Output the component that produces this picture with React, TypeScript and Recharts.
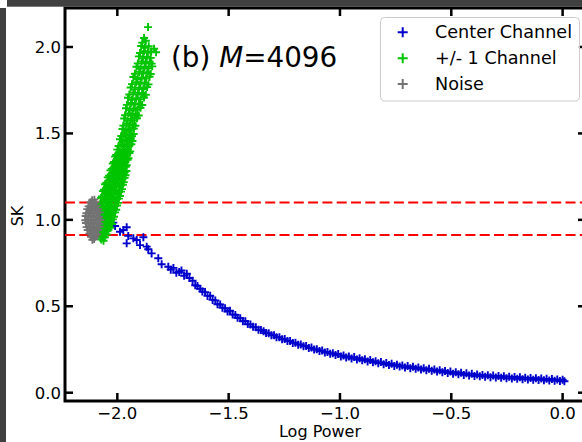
import React from "react";
import { ScatterChart, Scatter, XAxis, YAxis, ReferenceLine, ReferenceArea, Legend } from "recharts";

// ---------- data ----------
const seriesNames = ["Center Channel", "+/- 1 Channel", "Noise"];
const seriesColors = ["#0000cc", "#00c400", "#737373"];
const xTicks = [-2.0, -1.5, -1.0, -0.5, 0.0];
const yTicks = [0.0, 0.5, 1.0, 1.5, 2.0];
const thresholds = [1.1, 0.912];
const titleText = "(b) ";
const titleVar = "M";
const titleRest = "=4096";
const xLabel = "Log Power";
const yLabel = "SK";

const centerChannel: [number, number][] = [
  [-2.040, 0.960], [-2.033, 0.989], [-2.018, 0.984], [-2.010, 0.964], [-1.988, 0.931], [-1.973, 0.941],
  [-1.958, 0.957], [-1.951, 0.907], [-1.958, 0.864], [-1.928, 0.893], [-1.913, 0.883], [-1.898, 0.854],
  [-1.883, 0.899], [-1.868, 0.845], [-1.861, 0.830], [-1.846, 0.806], [-1.816, 0.778], [-1.801, 0.743],
  [-1.771, 0.729], [-1.760, 0.712], [-1.748, 0.722], [-1.735, 0.694], [-1.722, 0.698], [-1.712, 0.707],
  [-1.700, 0.676], [-1.688, 0.688], [-1.676, 0.664], [-1.662, 0.648], [-1.650, 0.622], [-1.640, 0.618],
  [-1.628, 0.601], [-1.618, 0.586], [-1.606, 0.582], [-1.595, 0.560], [-1.583, 0.561], [-1.572, 0.537],
  [-1.560, 0.534], [-1.550, 0.512], [-1.538, 0.510], [-1.528, 0.492], [-1.516, 0.489], [-1.505, 0.470],
  [-1.494, 0.474], [-1.482, 0.452], [-1.470, 0.450], [-1.460, 0.434], [-1.448, 0.431], [-1.436, 0.414],
  [-1.425, 0.413], [-1.414, 0.397], [-1.402, 0.394], [-1.390, 0.381], [-1.378, 0.378], [-1.366, 0.364],
  [-1.355, 0.363], [-1.343, 0.356], [-1.332, 0.345], [-1.320, 0.344], [-1.308, 0.333], [-1.296, 0.332],
  [-1.285, 0.321], [-1.272, 0.321], [-1.260, 0.309], [-1.248, 0.310], [-1.236, 0.299], [-1.224, 0.299],
  [-1.212, 0.288], [-1.200, 0.289], [-1.188, 0.278], [-1.176, 0.279], [-1.164, 0.269], [-1.152, 0.270],
  [-1.140, 0.259], [-1.128, 0.261], [-1.116, 0.250], [-1.104, 0.252], [-1.092, 0.241], [-1.080, 0.244],
  [-1.068, 0.233], [-1.056, 0.236], [-1.044, 0.226], [-1.032, 0.228], [-1.020, 0.218], [-1.008, 0.224],
  [-0.996, 0.209], [-0.984, 0.215], [-0.972, 0.203], [-0.960, 0.210], [-0.948, 0.198], [-0.936, 0.206],
  [-0.924, 0.192], [-0.912, 0.199], [-0.900, 0.188], [-0.888, 0.194], [-0.876, 0.181], [-0.864, 0.189],
  [-0.852, 0.176], [-0.840, 0.182], [-0.828, 0.171], [-0.816, 0.177], [-0.804, 0.165], [-0.792, 0.172],
  [-0.780, 0.160], [-0.768, 0.168], [-0.756, 0.155], [-0.744, 0.162], [-0.732, 0.151], [-0.720, 0.158],
  [-0.708, 0.146], [-0.696, 0.154], [-0.684, 0.142], [-0.672, 0.150], [-0.660, 0.139], [-0.648, 0.146],
  [-0.636, 0.134], [-0.624, 0.142], [-0.612, 0.130], [-0.600, 0.138], [-0.588, 0.127], [-0.576, 0.134],
  [-0.564, 0.122], [-0.552, 0.130], [-0.540, 0.118], [-0.528, 0.126], [-0.516, 0.114], [-0.504, 0.122],
  [-0.492, 0.110], [-0.480, 0.118], [-0.468, 0.107], [-0.456, 0.115], [-0.444, 0.103], [-0.432, 0.112],
  [-0.420, 0.100], [-0.408, 0.109], [-0.396, 0.097], [-0.384, 0.106], [-0.372, 0.095], [-0.360, 0.103],
  [-0.348, 0.093], [-0.336, 0.101], [-0.324, 0.090], [-0.312, 0.099], [-0.300, 0.088], [-0.288, 0.097],
  [-0.276, 0.086], [-0.264, 0.095], [-0.252, 0.084], [-0.240, 0.093], [-0.228, 0.082], [-0.216, 0.091],
  [-0.204, 0.080], [-0.192, 0.089], [-0.180, 0.078], [-0.168, 0.087], [-0.156, 0.077], [-0.144, 0.085],
  [-0.132, 0.075], [-0.120, 0.084], [-0.108, 0.074], [-0.096, 0.082], [-0.084, 0.072], [-0.072, 0.080],
  [-0.060, 0.071], [-0.048, 0.079], [-0.036, 0.069], [-0.024, 0.077], [-0.012, 0.068], [0.000, 0.075],
  [0.008, 0.066],
];

const sideChannels: [number, number][] = [
  [-2.072, 0.886], [-2.062, 0.879],
  [-2.075, 0.897], [-2.066, 0.905], [-2.056, 0.899],
  [-2.077, 0.926], [-2.067, 0.917], [-2.057, 0.924], [-2.048, 0.915],
  [-2.078, 0.946], [-2.068, 0.937], [-2.058, 0.944], [-2.048, 0.935], [-2.040, 0.942],
  [-2.079, 0.966], [-2.069, 0.955], [-2.059, 0.962], [-2.049, 0.957], [-2.039, 0.965], [-2.031, 0.954],
  [-2.080, 0.977], [-2.070, 0.986], [-2.060, 0.975], [-2.050, 0.984], [-2.040, 0.978], [-2.030, 0.987], [-2.024, 0.976],
  [-2.080, 1.006], [-2.070, 0.995], [-2.060, 1.004], [-2.050, 0.997], [-2.040, 1.008], [-2.030, 0.996], [-2.020, 1.003],
  [-2.080, 1.015], [-2.069, 1.026], [-2.058, 1.017], [-2.047, 1.024], [-2.036, 1.014], [-2.025, 1.027], [-2.015, 1.018],
  [-2.080, 1.046], [-2.069, 1.035], [-2.058, 1.044], [-2.047, 1.037], [-2.036, 1.048], [-2.024, 1.036], [-2.010, 1.043],
  [-2.080, 1.055], [-2.068, 1.066], [-2.056, 1.057], [-2.044, 1.064], [-2.032, 1.054], [-2.019, 1.067], [-2.005, 1.058],
  [-2.078, 1.086], [-2.066, 1.075], [-2.054, 1.084], [-2.042, 1.077], [-2.029, 1.088], [-2.015, 1.076], [-2.001, 1.083],
  [-2.076, 1.095], [-2.064, 1.106], [-2.051, 1.097], [-2.038, 1.104], [-2.025, 1.094], [-2.011, 1.107], [-1.997, 1.098],
  [-2.073, 1.126], [-2.060, 1.115], [-2.047, 1.124], [-2.034, 1.117], [-2.021, 1.128], [-2.007, 1.116], [-1.993, 1.123],
  [-2.069, 1.135], [-2.056, 1.146], [-2.043, 1.137], [-2.030, 1.144], [-2.016, 1.134], [-2.002, 1.147], [-1.988, 1.138],
  [-2.065, 1.166], [-2.052, 1.155], [-2.038, 1.164], [-2.025, 1.157], [-2.011, 1.168], [-1.997, 1.156], [-1.983, 1.163],
  [-2.060, 1.175], [-2.047, 1.186], [-2.033, 1.177], [-2.020, 1.184], [-2.006, 1.174], [-1.992, 1.187], [-1.979, 1.178],
  [-2.055, 1.206], [-2.041, 1.195], [-2.028, 1.204], [-2.014, 1.197], [-2.000, 1.208], [-1.987, 1.196], [-1.975, 1.203],
  [-2.049, 1.215], [-2.036, 1.226], [-2.022, 1.217], [-2.008, 1.224], [-1.995, 1.214], [-1.982, 1.227], [-1.971, 1.218],
  [-2.043, 1.246], [-2.030, 1.235], [-2.016, 1.244], [-2.002, 1.237], [-1.989, 1.248], [-1.977, 1.236], [-1.967, 1.243],
  [-2.037, 1.255], [-2.024, 1.266], [-2.011, 1.257], [-1.997, 1.264], [-1.984, 1.254], [-1.972, 1.267], [-1.963, 1.258],
  [-2.031, 1.286], [-2.018, 1.275], [-2.005, 1.284], [-1.992, 1.277], [-1.979, 1.288], [-1.967, 1.276], [-1.959, 1.283],
  [-2.025, 1.295], [-2.012, 1.306], [-1.999, 1.297], [-1.987, 1.304], [-1.974, 1.294], [-1.962, 1.307],
  [-2.020, 1.326], [-2.007, 1.315], [-1.994, 1.324], [-1.982, 1.317], [-1.969, 1.328], [-1.958, 1.316],
  [-2.015, 1.335], [-2.002, 1.346], [-1.989, 1.337], [-1.977, 1.344], [-1.964, 1.334], [-1.954, 1.347],
  [-2.010, 1.366], [-1.997, 1.355], [-1.985, 1.364], [-1.972, 1.357], [-1.960, 1.368], [-1.950, 1.356],
  [-2.005, 1.375], [-1.992, 1.386], [-1.980, 1.377], [-1.968, 1.384], [-1.956, 1.374], [-1.946, 1.387],
  [-2.000, 1.406], [-1.988, 1.395], [-1.976, 1.404], [-1.964, 1.397], [-1.952, 1.408], [-1.942, 1.396],
  [-1.994, 1.427], [-1.982, 1.436], [-1.970, 1.425], [-1.958, 1.434], [-1.946, 1.428], [-1.937, 1.437],
  [-1.988, 1.466], [-1.976, 1.455], [-1.964, 1.464], [-1.952, 1.457], [-1.940, 1.468], [-1.932, 1.456],
  [-1.982, 1.485], [-1.970, 1.496], [-1.958, 1.487], [-1.946, 1.494], [-1.934, 1.484], [-1.927, 1.497],
  [-1.977, 1.526], [-1.964, 1.515], [-1.951, 1.524], [-1.939, 1.517], [-1.926, 1.528],
  [-1.973, 1.545], [-1.959, 1.556], [-1.945, 1.547], [-1.931, 1.554], [-1.919, 1.544],
  [-1.969, 1.586], [-1.954, 1.575], [-1.939, 1.584], [-1.924, 1.577], [-1.912, 1.588],
  [-1.965, 1.605], [-1.949, 1.616], [-1.933, 1.607], [-1.917, 1.614], [-1.904, 1.604],
  [-1.961, 1.646], [-1.944, 1.635], [-1.927, 1.644], [-1.910, 1.637], [-1.896, 1.648],
  [-1.957, 1.665], [-1.939, 1.676], [-1.921, 1.667], [-1.903, 1.674], [-1.888, 1.664],
  [-1.952, 1.706], [-1.934, 1.695], [-1.915, 1.704], [-1.896, 1.697], [-1.880, 1.708],
  [-1.946, 1.725], [-1.928, 1.736], [-1.908, 1.727], [-1.889, 1.734], [-1.872, 1.724],
  [-1.940, 1.766], [-1.921, 1.755], [-1.902, 1.764], [-1.883, 1.757], [-1.866, 1.768],
  [-1.934, 1.785], [-1.915, 1.796], [-1.896, 1.787], [-1.877, 1.794], [-1.860, 1.784],
  [-1.928, 1.826], [-1.909, 1.815], [-1.890, 1.824], [-1.871, 1.817], [-1.855, 1.828],
  [-1.921, 1.845], [-1.902, 1.856], [-1.884, 1.847], [-1.866, 1.854], [-1.850, 1.844],
  [-1.914, 1.886], [-1.896, 1.875], [-1.878, 1.884], [-1.860, 1.877], [-1.843, 1.888],
  [-1.908, 1.905], [-1.890, 1.916], [-1.872, 1.907], [-1.855, 1.914], [-1.846, 1.904],
  [-1.903, 1.946], [-1.885, 1.935], [-1.867, 1.944], [-1.850, 1.937],
  [-1.898, 1.965], [-1.880, 1.976], [-1.863, 1.967], [-1.848, 1.974],
  [-1.893, 2.006], [-1.876, 1.995], [-1.859, 2.004],
  [-1.888, 2.025], [-1.872, 2.036],
  [-1.880, 2.052],
  [-1.862, 2.115], [-1.826, 1.970], [-1.835, 1.990],
];

const noise: [number, number][] = [
  [-2.112, 0.885], [-2.104, 0.889],
  [-2.118, 0.902], [-2.108, 0.898], [-2.098, 0.904],
  [-2.125, 0.921], [-2.113, 0.918], [-2.101, 0.923], [-2.090, 0.917],
  [-2.133, 0.941], [-2.121, 0.937], [-2.109, 0.943], [-2.097, 0.938], [-2.086, 0.942],
  [-2.138, 0.958], [-2.126, 0.963], [-2.114, 0.957], [-2.102, 0.962], [-2.090, 0.958], [-2.080, 0.961],
  [-2.141, 0.982], [-2.129, 0.977], [-2.117, 0.983], [-2.105, 0.978], [-2.093, 0.982], [-2.081, 0.977],
  [-2.144, 0.998], [-2.132, 1.003], [-2.120, 0.997], [-2.108, 1.002], [-2.096, 0.998], [-2.084, 1.003], [-2.076, 0.999],
  [-2.142, 1.022], [-2.130, 1.017], [-2.118, 1.023], [-2.106, 1.018], [-2.094, 1.022], [-2.082, 1.017],
  [-2.139, 1.038], [-2.127, 1.043], [-2.115, 1.037], [-2.103, 1.042], [-2.091, 1.038], [-2.080, 1.043],
  [-2.135, 1.062], [-2.123, 1.057], [-2.111, 1.063], [-2.099, 1.058], [-2.087, 1.061],
  [-2.129, 1.078], [-2.117, 1.083], [-2.105, 1.077], [-2.093, 1.082],
  [-2.121, 1.102], [-2.109, 1.097], [-2.097, 1.101],
  [-2.113, 1.114], [-2.103, 1.117],
];

// ---------- layout ----------
const CHART_W = 590;
const CHART_H = 442;
const PL = 65;
const PT = 8;
const PR = 586;
const PB = 401;
const XMIN = -2.235;
const XMAX = 0.105;
const YMIN = -0.048;
const YMAX = 2.2256;
const FONT = "'DejaVu Sans', 'Liberation Sans', sans-serif";

const toPts = (arr: [number, number][]) => arr.map(([x, y]) => ({ x, y }));

const fmt = (v: number) => {
  const s = Math.abs(v).toFixed(1);
  return v < 0 ? "\u2212" + s : s;
};

const makeCross = (color: string, size: number) => (props: any) => {
  const { cx, cy } = props;
  if (cx == null || cy == null || isNaN(cx) || isNaN(cy)) return <g />;
  const h = size / 2;
  return (
    <path
      d={`M${cx - h},${cy}H${cx + h}M${cx},${cy - h}V${cy + h}`}
      stroke={color}
      strokeWidth={1.9}
      fill="none"
    />
  );
};

const XTick = (props: any) => {
  const { x, payload } = props;
  return (
    <g>
      <line x1={x} x2={x} y1={PB} y2={PB - 8} stroke="#000" strokeWidth={2.5} />
      <line x1={x} x2={x} y1={PT} y2={PT + 8} stroke="#000" strokeWidth={2.5} />
      <text x={x} y={PB + 17.8} textAnchor="middle" fontSize={16.5} fontFamily={FONT} fill="#000">
        {fmt(payload.value)}
      </text>
    </g>
  );
};

const YTick = (props: any) => {
  const { y, payload } = props;
  return (
    <g>
      <line x1={PL} x2={PL + 8} y1={y} y2={y} stroke="#000" strokeWidth={2.5} />
      <line x1={PR} x2={PR - 8} y1={y} y2={y} stroke="#000" strokeWidth={2.5} />
      <text x={61} y={y + 6} textAnchor="end" fontSize={16.5} fontFamily={FONT} fill="#000">
        {fmt(payload.value)}
      </text>
    </g>
  );
};

const LegendBox = (props: any) => {
  const payload = props.payload || [];
  const ordered = seriesNames
    .map((n) => payload.find((p: any) => p.value === n))
    .filter(Boolean);
  return (
    <svg width={201} height={86} style={{ display: "block" }}>
      <rect x={0.5} y={0.5} width={199} height={83.5} rx={4} ry={4} fill="rgba(255,255,255,0.85)" stroke="#cccccc" strokeWidth={1} />
      {ordered.map((p: any, i: number) => {
        const cy = 15.3 + i * 25.9;
        const c = p.color;
        return (
          <g key={i}>
            <path d={`M${22.7 - 5},${cy}H${22.7 + 5}M22.7,${cy - 5}V${cy + 5}`} stroke={c} strokeWidth={2} />
            <text x={55} y={cy + 5.8} fontSize={17.6} fontFamily={FONT} fill="#000">
              {p.value}
            </text>
          </g>
        );
      })}
    </svg>
  );
};

export default function App() {
  return (
    <div style={{ position: "absolute", left: 0, top: 0, width: 582, height: 442, overflow: "hidden", background: "#fff" }}>
      <ScatterChart width={CHART_W} height={CHART_H} margin={{ top: PT, right: CHART_W - PR, left: 5, bottom: 11 }}>
        <XAxis
          type="number"
          dataKey="x"
          domain={[XMIN, XMAX]}
          ticks={xTicks}
          allowDataOverflow
          height={30}
          axisLine={false}
          tickLine={false}
          tick={<XTick />}
          label={() => (
            <text x={320} y={437} textAnchor="middle" fontSize={16} fontFamily={FONT} fill="#000">
              {xLabel}
            </text>
          )}
        />
        <YAxis
          type="number"
          dataKey="y"
          domain={[YMIN, YMAX]}
          ticks={yTicks}
          allowDataOverflow
          width={60}
          axisLine={false}
          tickLine={false}
          tick={<YTick />}
          label={() => (
            <text transform={`translate(23,216) rotate(-90)`} textAnchor="middle" fontSize={16} fontFamily={FONT} fill="#000">
              {yLabel}
            </text>
          )}
        />
        <Scatter name={seriesNames[0]} data={toPts(centerChannel)} fill={seriesColors[0]} shape={makeCross(seriesColors[0], 8)} isAnimationActive={false} />
        <Scatter name={seriesNames[1]} data={toPts(sideChannels)} fill={seriesColors[1]} shape={makeCross(seriesColors[1], 8)} isAnimationActive={false} />
        <Scatter name={seriesNames[2]} data={toPts(noise)} fill={seriesColors[2]} shape={makeCross(seriesColors[2], 8)} isAnimationActive={false} />
        {thresholds.map((t) => (
          <ReferenceLine key={t} y={t} stroke="#ff0000" strokeWidth={2} strokeDasharray="10 4.3" />
        ))}
        <ReferenceArea x1={XMIN} x2={XMAX} y1={YMIN} y2={YMAX} fill="none" fillOpacity={0} stroke="#000" strokeWidth={3} />
        <Legend
          layout="vertical"
          align="center"
          verticalAlign="middle"
          content={<LegendBox />}
          wrapperStyle={{ position: "absolute", left: 380, top: 16.5, width: 201, height: 86 }}
        />
      </ScatterChart>
      <svg width={582} height={442} style={{ position: "absolute", left: 0, top: 0, pointerEvents: "none" }}>
        <text x={171} y={66.7} fontSize={27.8} fontFamily={FONT} fill="#000">
          {titleText}
          <tspan fontStyle="italic">{titleVar}</tspan>
          {titleRest}
        </text>
        <rect x={7} y={0} width={575} height={6.7} fill="#404040" />
        <rect x={0} y={8} width={6} height={434} fill="#404040" />
      </svg>
    </div>
  );
}
